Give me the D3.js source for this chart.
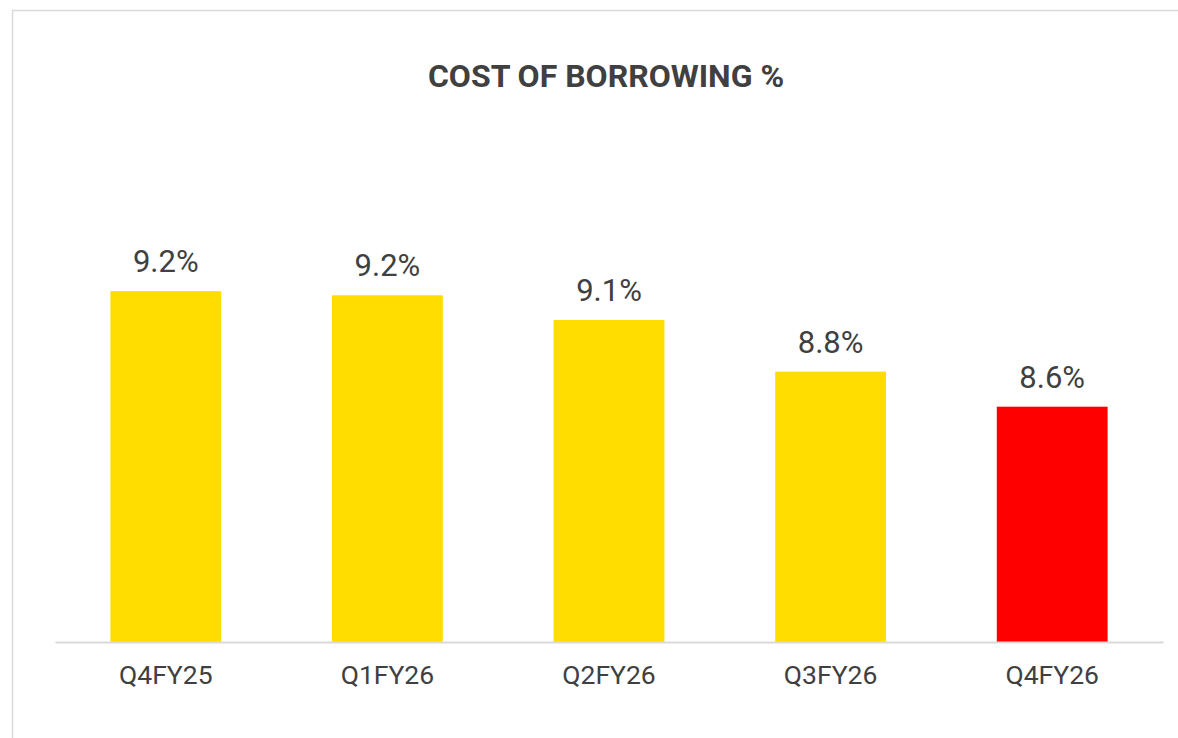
<!DOCTYPE html>
<html>
<head>
<meta charset="utf-8">
<script src="https://cdn.jsdelivr.net/npm/d3@7"></script>
<style>
  body { margin: 0; background: #fff; }
  svg { display: block; font-family: Roboto, "Noto Sans", sans-serif; }
</style>
</head>
<body>
<script>
const categories = ["Q4FY25", "Q1FY26", "Q2FY26", "Q3FY26", "Q4FY26"];
const values = [9.20, 9.18, 9.06, 8.81, 8.64];
const barColors = ["#ffdd00", "#ffdd00", "#ffdd00", "#ffdd00", "#ff0000"];
const yDomain = [7.5, 10];

const width = 1178;
const height = 738;
const margin = { left: 55, right: 15, top: 126, bottom: 96 };

const svg = d3.select("body").append("svg")
    .attr("width", width)
    .attr("height", height);

// chart frame (runs off the right and bottom edge)
svg.append("rect")
    .attr("x", 12.5)
    .attr("y", 10.5)
    .attr("width", 1200)
    .attr("height", 800)
    .attr("fill", "none")
    .attr("stroke", "#d9d9d9")
    .attr("stroke-width", 1.5);

const x = d3.scaleBand()
    .domain(categories)
    .range([margin.left, width - margin.right])
    .paddingInner(0.5)
    .paddingOuter(0.25);

const y = d3.scaleLinear()
    .domain(yDomain)
    .range([height - margin.bottom, margin.top]);

const data = categories.map((c, i) => ({ cat: c, val: values[i], color: barColors[i] }));

svg.selectAll("rect.bar")
    .data(data)
    .enter()
    .append("rect")
    .attr("class", "bar")
    .attr("x", d => x(d.cat))
    .attr("y", d => y(d.val))
    .attr("width", x.bandwidth())
    .attr("height", d => y(yDomain[0]) - y(d.val))
    .attr("fill", d => d.color);

// x axis
const xAxis = svg.append("g")
    .attr("transform", "translate(0," + y(yDomain[0]) + ")")
    .call(d3.axisBottom(x).tickSize(0).tickPadding(23));
xAxis.select(".domain")
    .attr("stroke", "#d9d9d9")
    .attr("stroke-width", 2);
xAxis.selectAll("text")
    .attr("fill", "#404040")
    .style("font-size", "26.5px")
    .style("font-family", "Roboto, sans-serif");

// value labels
svg.selectAll("text.val")
    .data(data)
    .enter()
    .append("text")
    .attr("class", "val")
    .attr("x", d => x(d.cat) + x.bandwidth() / 2)
    .attr("y", d => y(d.val) - 19)
    .attr("text-anchor", "middle")
    .attr("fill", "#404040")
    .style("font-size", "31px")
    .text(d => d.val.toFixed(1) + "%");

// title
svg.append("text")
    .attr("x", 606)
    .attr("y", 87)
    .attr("text-anchor", "middle")
    .attr("fill", "#404040")
    .style("font-size", "32px")
    .style("font-weight", "bold")
    .text("COST OF BORROWING %");
</script>
</body>
</html>
